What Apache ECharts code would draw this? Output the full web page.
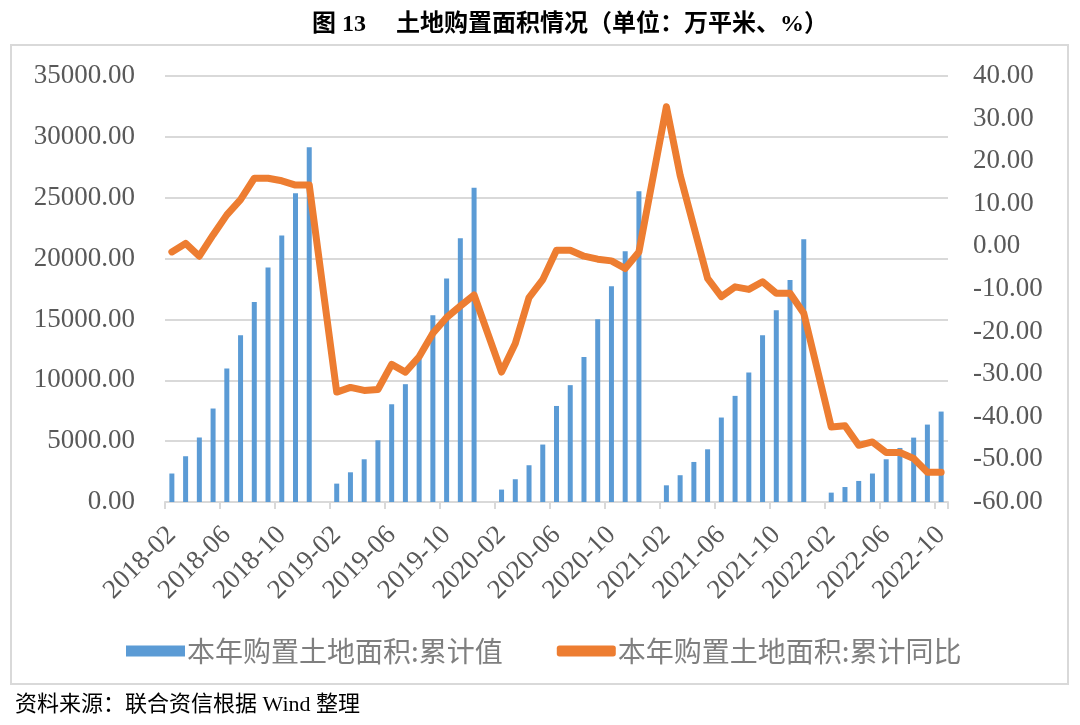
<!DOCTYPE html>
<html>
<head>
<meta charset="utf-8">
<script src="https://cdn.jsdelivr.net/npm/echarts@6/dist/echarts.min.js"></script>
<style>
  html, body { margin: 0; padding: 0; background: #ffffff; }
  #chart { width: 1080px; height: 725px; }
</style>
</head>
<body>
<div id="chart"></div>
<script>
const categories = [
  '2018-02','2018-03','2018-04','2018-05','2018-06','2018-07','2018-08','2018-09','2018-10','2018-11','2018-12',
  '2019-01','2019-02','2019-03','2019-04','2019-05','2019-06','2019-07','2019-08','2019-09','2019-10','2019-11','2019-12',
  '2020-01','2020-02','2020-03','2020-04','2020-05','2020-06','2020-07','2020-08','2020-09','2020-10','2020-11','2020-12',
  '2021-01','2021-02','2021-03','2021-04','2021-05','2021-06','2021-07','2021-08','2021-09','2021-10','2021-11','2021-12',
  '2022-01','2022-02','2022-03','2022-04','2022-05','2022-06','2022-07','2022-08','2022-09','2022-10'
];

// 本年购置土地面积:累计值 (万平米)
const areaValues = [
  2340, 3760, 5300, 7680, 10970, 13710, 16440, 19270, 21900, 25360, 29140,
  null, 1510, 2440, 3510, 5070, 8030, 9680, 11800, 15350, 18370, 21660, 25820,
  null, 1020, 1870, 3020, 4720, 7890, 9600, 11920, 15020, 17730, 20610, 25540,
  null, 1370, 2200, 3290, 4330, 6940, 8720, 10640, 13710, 15760, 18230, 21590,
  null, 770, 1230, 1730, 2340, 3510, 4440, 5290, 6360, 7430
];

// 本年购置土地面积:累计同比 (%)
const yoyValues = [
  -1.3, 0.7, -2.3, 2.7, 7.4, 11.0, 16.0, 16.0, 15.4, 14.4, 14.4,
  null, -34.2, -33.1, -33.8, -33.6, -27.7, -29.5, -25.9, -20.4, -16.7, -14.0, -11.4,
  null, -29.5, -22.8, -12.0, -7.8, -0.9, -0.9, -2.3, -3.0, -3.4, -5.2, -1.3,
  null, 32.8, 16.7, 4.6, -7.5, -11.8, -9.5, -10.1, -8.3, -11.0, -11.0, -15.7,
  null, -42.4, -42.1, -46.7, -45.9, -48.4, -48.4, -49.8, -53.0, -53.0
];

const seriesNames = ['本年购置土地面积:累计值', '本年购置土地面积:累计同比'];
const titleText = '图 13\u3000 土地购置面积情况（单位：万平米、%）';
const sourceText = '资料来源：联合资信根据 Wind 整理';

const serif = '"Liberation Serif", "Times New Roman", "Noto Sans CJK SC", serif';
const cjk = '"Noto Sans CJK SC", sans-serif';

const chart = echarts.init(document.getElementById('chart'), null, { renderer: 'canvas' });

chart.setOption({
  backgroundColor: '#ffffff',
  animation: false,
  title: {
    text: titleText,
    left: 307,
    top: 8,
    textStyle: { fontFamily: serif, fontSize: 24, fontWeight: 'bold', color: '#000000' }
  },
  graphic: [
    {
      type: 'rect',
      shape: { x: 11, y: 45, width: 1057, height: 639 },
      style: { fill: 'none', stroke: '#d9d9d9', lineWidth: 2 },
      silent: true, z: -1
    },
    {
      type: 'text',
      left: 15,
      top: 694,
      style: { text: sourceText, font: '22px ' + serif, fill: '#000000' }
    }
  ],
  legend: {
    left: 121,
    top: 632,
    itemGap: 54,
    itemWidth: 59,
    itemHeight: 11,
    textStyle: { fontFamily: cjk, fontSize: 28, color: '#7f7f7f', padding: [0, 0, 0, -3] },
    data: [
      { name: seriesNames[0], icon: 'rect' },
      { name: seriesNames[1], icon: 'roundRect' }
    ]
  },
  grid: { left: 165, right: 132, top: 76, bottom: 223 },
  xAxis: {
    type: 'category',
    data: categories,
    boundaryGap: true,
    axisLine: { lineStyle: { color: '#d9d9d9', width: 2 } },
    axisTick: { show: true, interval: 3, length: 7, lineStyle: { color: '#d9d9d9', width: 2 } },
    axisLabel: {
      interval: 3,
      rotate: 45,
      margin: 29,
      fontFamily: serif,
      fontSize: 27,
      color: '#595959'
    },
    splitLine: { show: false }
  },
  yAxis: [
    {
      type: 'value',
      min: 0, max: 35000, interval: 5000,
      axisLine: { show: false },
      axisTick: { show: false },
      axisLabel: {
        margin: 30, fontFamily: serif, fontSize: 27, color: '#595959',
        formatter: v => v.toFixed(2)
      },
      splitLine: { lineStyle: { color: '#d9d9d9', width: 2 } }
    },
    {
      type: 'value',
      min: -60, max: 40, interval: 10,
      axisLine: { show: false },
      axisTick: { show: false },
      axisLabel: {
        margin: 25, fontFamily: serif, fontSize: 27, color: '#595959',
        formatter: v => v.toFixed(2)
      },
      splitLine: { show: false }
    }
  ],
  series: [
    {
      name: seriesNames[0],
      type: 'bar',
      yAxisIndex: 0,
      data: areaValues,
      barWidth: 5,
      itemStyle: { color: '#5b9bd5' }
    },
    {
      name: seriesNames[1],
      type: 'line',
      yAxisIndex: 1,
      data: yoyValues,
      connectNulls: true,
      showSymbol: false,
      symbol: 'none',
      lineStyle: { color: '#ed7d31', width: 7, join: 'round', cap: 'round' },
      itemStyle: { color: '#ed7d31' },
      z: 3
    }
  ]
});
</script>
</body>
</html>
